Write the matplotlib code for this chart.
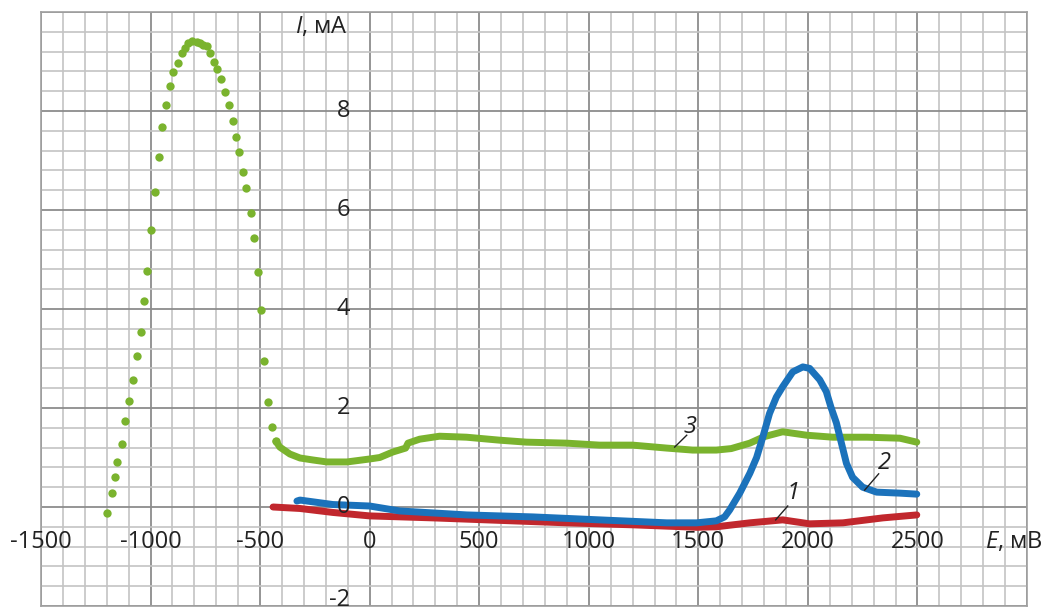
import matplotlib
matplotlib.use("Agg")
import matplotlib.pyplot as plt
import numpy as np

plt.rcParams['font.family'] = ['Open Sans', 'DejaVu Sans']
plt.rcParams['mathtext.fontset'] = 'custom'
plt.rcParams['mathtext.it'] = 'Open Sans:italic'
plt.rcParams['mathtext.rm'] = 'Open Sans'

# curve 3, the sparse peak part (single dots)
green_peak_x = [-1199, -1176, -1162, -1153, -1131, -1117, -1098, -1080, -1062, -1044,
                -1030, -1016, -998, -980, -962, -948, -930, -912, -898, -875,
                -857, -843, -829, -811, -788, -775, -761, -743, -729, -711,
                -697, -679, -661, -642, -624, -610, -597, -579, -565, -542,
                -528, -510, -496, -483, -464, -446, -428]
green_peak_y = [-0.12, 0.28, 0.6, 0.9, 1.27, 1.73, 2.14, 2.57, 3.05, 3.54,
                4.17, 4.77, 5.6, 6.36, 7.07, 7.68, 8.12, 8.5, 8.79, 8.97,
                9.17, 9.27, 9.37, 9.41, 9.39, 9.37, 9.33, 9.31, 9.17, 9.0,
                8.85, 8.64, 8.38, 8.12, 7.8, 7.48, 7.17, 6.77, 6.45, 5.94,
                5.43, 4.75, 3.98, 2.95, 2.12, 1.62, 1.33]
# curve 3, the dense part
green_x = [-428, -410, -364, -318, -259, -195, -136, -104, 0, 46, 105, 164, 175, 228, 319,
           442, 593, 716, 898, 1049, 1200, 1356, 1474, 1582, 1650, 1735, 1800, 1885,
           1995, 2114, 2270, 2420, 2497]
green_y = [1.33, 1.21, 1.07, 0.99, 0.95, 0.91, 0.91, 0.91, 0.97, 1.0, 1.11, 1.19, 1.29, 1.37, 1.43,
           1.41, 1.35, 1.31, 1.29, 1.25, 1.25, 1.19, 1.15, 1.15, 1.18, 1.29, 1.42, 1.52,
           1.45, 1.41, 1.41, 1.39, 1.31]

blue_x = [-332, -318, -168, 0, 137, 442, 744, 1049, 1356, 1492, 1582, 1620, 1643, 1689,
          1735, 1766, 1794, 1825, 1856, 1885, 1931, 1977, 2008, 2054, 2084, 2105, 2130,
          2153, 2176, 2204, 2250, 2314, 2420, 2497]
blue_y = [0.12, 0.14, 0.05, 0.02, -0.08, -0.16, -0.2, -0.26, -0.32, -0.32, -0.28, -0.2, -0.06, 0.28,
          0.68, 1.0, 1.41, 1.89, 2.22, 2.43, 2.73, 2.83, 2.8, 2.57, 2.33, 2.02, 1.7,
          1.29, 0.88, 0.6, 0.4, 0.3, 0.28, 0.26]

red_x = [-441, -318, -168, 0, 289, 593, 898, 1200, 1492, 1582, 1735, 1885, 2008, 2160, 2342, 2497]
red_y = [0.0, -0.03, -0.11, -0.18, -0.22, -0.27, -0.32, -0.36, -0.41, -0.4, -0.32, -0.26, -0.34,
         -0.32, -0.22, -0.16]

x_ticks = [-1500, -1000, -500, 0, 500, 1000, 1500, 2000, 2500]
y_ticks = [-2, 0, 2, 4, 6, 8]

# curve number labels: (text, label pos, leader start, leader end)
curve_labels = [
    ("1", (1931, 0.28), (1853, -0.26), (1908, 0.02)),
    ("2", (2350, 0.89), (2259, 0.34), (2323, 0.67)),
    ("3", (1461, 1.62), (1392, 1.21), (1447, 1.45)),
]

green = '#7ab32e'
blue = '#1b72bb'
red = '#c1272d'

fig = plt.figure(figsize=(10.48, 6.11), dpi=100)
ax = fig.add_axes([41/1048, 5/611, (1027-41)/1048, (606-12)/611])
ax.set_xlim(-1500, 3000)
ax.set_ylim(-2, 10)

# grid paper
ax.set_xticks(np.arange(-1500, 3001, 500))
ax.set_yticks(np.arange(-2, 10.01, 2))
ax.set_xticks(np.arange(-1500, 3001, 100), minor=True)
ax.set_yticks(np.arange(-2, 10.01, 0.4), minor=True)
ax.grid(which='minor', color='#c4c4c4', lw=1.2)
ax.grid(which='major', color='#8c8c8c', lw=1.3)
ax.tick_params(which='both', length=0, labelbottom=False, labelleft=False)
ax.set_axisbelow(True)
for s in ax.spines.values():
    s.set_color('#a0a0a0')
    s.set_linewidth(1.2)

ax.plot(green_peak_x, green_peak_y, 'o', color=green, ms=6, mec='none', zorder=3)
ax.plot(green_x, green_y, '-', color=green, lw=5, solid_capstyle='round', zorder=3)
ax.plot(red_x, red_y, '-', color=red, lw=5, solid_capstyle='round', zorder=4)
ax.plot(blue_x, blue_y, '-', color=blue, lw=5, solid_capstyle='round', zorder=5)

for t in x_ticks:
    ax.text(t, -0.71, str(t), ha='center', va='center', fontsize=17, color='#222222', zorder=6)
for t in y_ticks:
    # the lowest label sits on the frame edge, keep it inside the picture
    yy = max(t, -1.88)
    ax.text(-90, yy, str(t), ha='right', va='center', fontsize=17, color='#222222', zorder=6)

ax.text(-340, 9.7, '$I$, мА', ha='left', va='center', fontsize=17, color='#222222')
ax.text(2807, -0.71, '$E$, мВ', ha='left', va='center', fontsize=17, color='#222222')

for name, pos, p0, p1 in curve_labels:
    ax.plot([p0[0], p1[0]], [p0[1], p1[1]], color='#222222', lw=1, zorder=6)
    ax.text(pos[0], pos[1], name, ha='center', va='center', fontsize=17,
            style='italic', color='#222222', zorder=6)

fig.savefig('out.png', dpi=100)
